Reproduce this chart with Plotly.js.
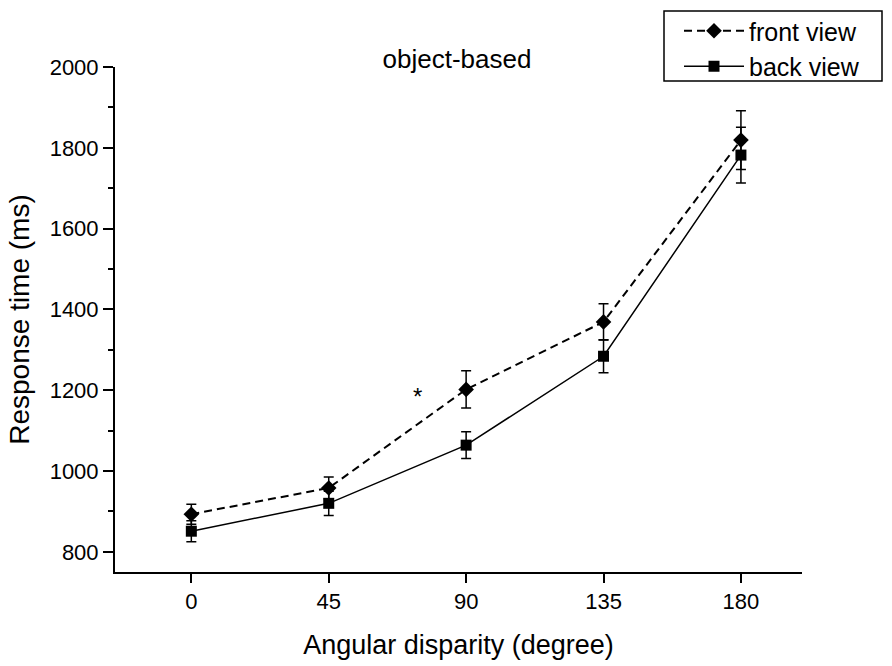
<!DOCTYPE html>
<html>
<head>
<meta charset="utf-8">
<script src="https://cdn.plot.ly/plotly-3.0.1.min.js"></script>
<style>html,body{margin:0;padding:0;background:#fff;}#chart{width:892px;height:666px;}</style>
</head>
<body>
<div id="chart"></div>
<script>
const angles = [0, 45, 90, 135, 180];
const frontView = [893, 958, 1202, 1369, 1819];
const frontErr = [25, 27, 46, 45, 73];
const backView = [851, 920, 1064, 1284, 1782];
const backErr = [26, 30, 33, 41, 69];
const seriesNames = ["front view", "back view"];
const tickVals = [0, 45, 90, 135, 180];
const yTickVals = [800, 1000, 1200, 1400, 1600, 1800, 2000];

const FONT = "Liberation Sans, Arial, sans-serif";

// plot-area pixel geometry helpers (for legend/box placement only)
const PL = 115, PW = 687, PB = 572, PH = 505;
const px = v => (v - PL) / PW;
const py = v => (PB - v) / PH;

const traces = [
  {
    x: angles, y: frontView, name: seriesNames[0], type: "scatter", mode: "lines+markers",
    line: {color: "#000", width: 2, dash: "8px,5px"},
    marker: {symbol: "diamond", size: 12, color: "#000"},
    error_y: {type: "data", array: frontErr, visible: true, color: "#000", thickness: 1.5, width: 5}
  },
  {
    x: angles, y: backView, name: seriesNames[1], type: "scatter", mode: "lines+markers",
    line: {color: "#000", width: 1.5},
    marker: {symbol: "square", size: 11, color: "#000"},
    error_y: {type: "data", array: backErr, visible: true, color: "#000", thickness: 1.5, width: 5}
  }
];

const layout = {
  width: 892, height: 666,
  margin: {l: 115, r: 90, t: 67, b: 94, autoexpand: false},
  paper_bgcolor: "#fff", plot_bgcolor: "#fff",
  font: {family: FONT, color: "#000", size: 22},
  showlegend: true,
  title: {text: "object-based", x: 457/892, xanchor: "center", y: 1 - 59/666, yanchor: "middle",
          font: {family: FONT, size: 26, color: "#000"}},
  xaxis: {
    range: [-25, 200], tickvals: tickVals, ticktext: tickVals.map(String),
    ticks: "outside", ticklen: 9, tickwidth: 2, tickcolor: "#000",
    showline: true, linewidth: 2, linecolor: "#000", mirror: false,
    showgrid: false, zeroline: false,
    tickfont: {family: FONT, size: 22, color: "#000"},
    title: {text: "Angular disparity (degree)", font: {family: FONT, size: 27, color: "#000"}, standoff: 22}
  },
  yaxis: {
    range: [750, 2000], tickvals: yTickVals, ticktext: yTickVals.map(String),
    ticks: "outside", ticklen: 10, tickwidth: 2, tickcolor: "#000",
    minor: {ticks: "outside", ticklen: 5, tickwidth: 2, tickcolor: "#000", dtick: 100, showgrid: false},
    showline: true, linewidth: 2, linecolor: "#000", mirror: false,
    showgrid: false, zeroline: false,
    tickfont: {family: FONT, size: 22, color: "#000"},
    title: {text: "Response time (ms)", font: {family: FONT, size: 28, color: "#000"}, standoff: 12}
  },
  legend: {
    x: px(679), xanchor: "left", y: py(8), yanchor: "top",
    borderwidth: 0, bgcolor: "rgba(0,0,0,0)",
    font: {family: FONT, size: 25, color: "#000"},
    itemwidth: 60, tracegroupgap: 0
  },
  shapes: [
    {type: "rect", xref: "paper", yref: "paper", x0: px(664), x1: px(882), y0: py(81), y1: py(11),
     line: {color: "#000", width: 1.5}, fillcolor: "rgba(0,0,0,0)"}
  ],
  annotations: [
    {x: 74, y: 1184, xref: "x", yref: "y", text: "*", showarrow: false,
     font: {family: FONT, size: 24, color: "#000"}, xanchor: "center", yanchor: "middle"}
  ]
};

Plotly.newPlot("chart", traces, layout, {displayModeBar: false, staticPlot: true});
</script>
</body>
</html>
